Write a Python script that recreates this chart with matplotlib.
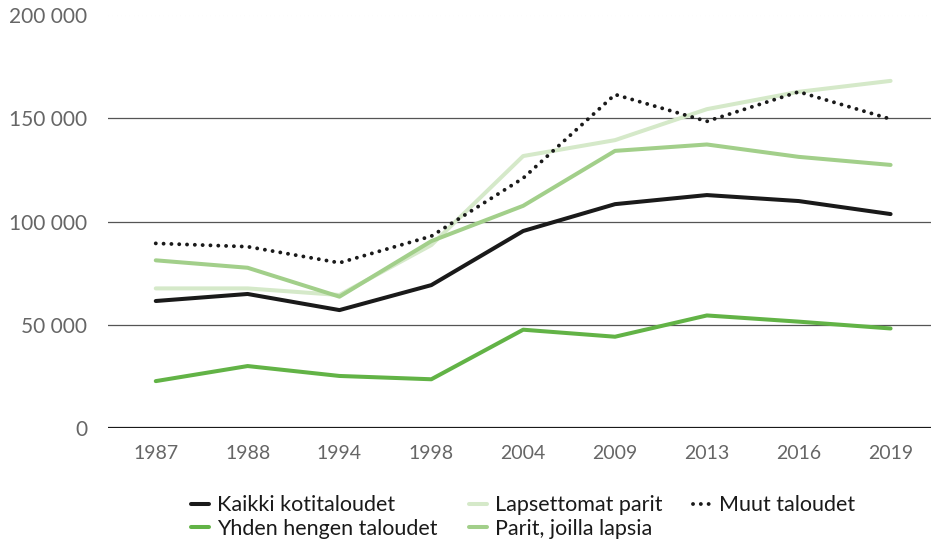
import matplotlib
matplotlib.use("Agg")
import matplotlib.pyplot as plt
from matplotlib.ticker import FuncFormatter

years = ["1987", "1988", "1994", "1998", "2004", "2009", "2013", "2016", "2019"]
kaikki = [61500, 64900, 57100, 69200, 95400, 108400, 112800, 109900, 103600]
yhden = [22700, 30000, 25200, 23600, 47600, 44200, 54500, 51500, 48200]
lapsettomat = [67600, 67600, 64400, 88600, 131700, 139400, 154400, 162800, 168100]
parit = [81200, 77600, 63600, 90500, 107600, 134200, 137300, 131300, 127400]
muut = [89400, 87800, 80000, 92900, 121000, 161500, 148500, 162800, 149600]
yticks = [0, 50000, 100000, 150000, 200000]

plt.rcParams['font.family'] = ['Lato', 'DejaVu Sans']
fig = plt.figure(figsize=(9.31, 5.41), dpi=100)
ax = fig.add_axes([108/931, 1-428/541, 1-108/931, (428-15)/541])

x = list(range(len(years)))
lw = 2.9
ax.plot(x, lapsettomat, color="#d5e9c9", lw=lw, solid_capstyle="round", label="Lapsettomat parit", zorder=3)
ax.plot(x, parit, color="#a2cf8a", lw=lw, solid_capstyle="round", label="Parit, joilla lapsia", zorder=3)
ax.plot(x, yhden, color="#62b346", lw=lw, solid_capstyle="round", label="Yhden hengen taloudet", zorder=3)
ax.plot(x, kaikki, color="#1a1a1a", lw=lw, solid_capstyle="round", label="Kaikki kotitaloudet", zorder=4)
ax.plot(x, muut, color="#1a1a1a", lw=2.8, linestyle=(0, (0.01, 3.4)), dash_capstyle="round",
        label="Muut taloudet", zorder=4)

ax.set_ylim(0, 200000)
ax.set_xlim(-0.52, 8.44)
ax.set_yticks(yticks)
ax.yaxis.set_major_formatter(FuncFormatter(lambda v, p: f"{int(v):,}".replace(",", " ")))
ax.set_xticks(x)
ax.set_xticklabels(years)
for v in yticks:
    if v == 0:
        ax.axhline(v, color="#1a1a1a", lw=1.6, zorder=2)
    else:
        ax.axhline(v, color="#555555", lw=0.9, zorder=1)
for s in ax.spines.values():
    s.set_visible(False)
ax.tick_params(axis="both", length=0, colors="#666666")
ax.tick_params(axis="y", pad=15, labelsize=15)
ax.tick_params(axis="x", pad=12, labelsize=14)

h, l = ax.get_legend_handles_labels()
order = ["Kaikki kotitaloudet", "Yhden hengen taloudet", "Lapsettomat parit", "Parit, joilla lapsia", "Muut taloudet"]
hd = dict(zip(l, h))
hd["Muut taloudet"].set_linestyle((0, (0.01, 2.0)))
leg = fig.legend([hd[k] for k in order], order, ncol=3, loc="center", bbox_to_anchor=(0.562, 1-517/541),
           frameon=False, fontsize=15.5, handlelength=0.85, handletextpad=0.35, columnspacing=1.45,
           labelspacing=0.15, labelcolor="#1a1a1a")
ax.lines[-1].set_linestyle((0, (0.01, 3.4)))

fig.savefig("out.png", dpi=100)
